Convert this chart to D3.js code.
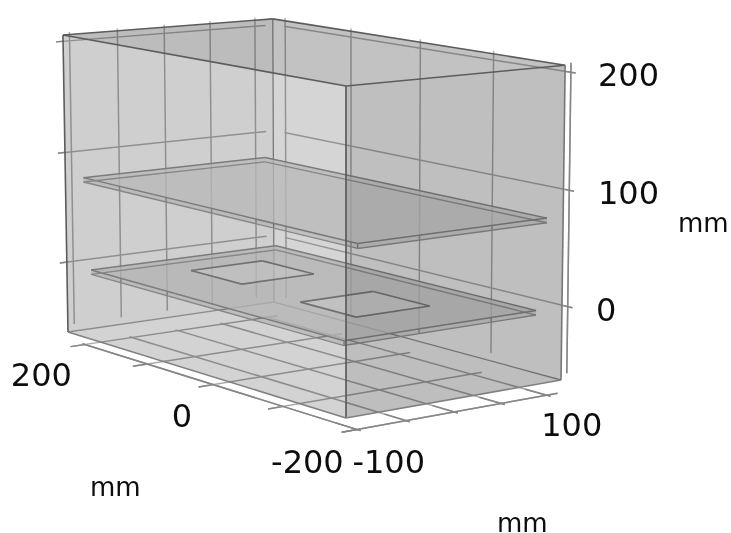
<!DOCTYPE html>
<html>
<head>
<meta charset="utf-8">
<script src="https://cdn.jsdelivr.net/npm/d3@7"></script>
<style>
  html, body { margin: 0; padding: 0; background: #fff; }
  text { font-family: "DejaVu Sans", sans-serif; fill: #111; }
</style>
</head>
<body>
<script>
// axis values
var xTicks = [-200, -100, 0, 100, 200];
var yTicks = [-100, -50, 0, 50, 100];
var zTicks = [0, 100, 200];
var xLabels = [200, 0, -200];
var yLabels = [-100, 100];
var zLabels = [200, 100, 0];

// box and plates, in mm
var boxX = [-203, 207];
var boxY = [-113, 113];
var boxZ = [-62, 207];
var upperPlateX = [-201, 198];
var upperPlateY = [-100, 97];
var upperPlateZ = [75, 79];
var lowerPlateX = [-178, 194];
var lowerPlateY = [-96, 106];
var lowerPlateZ = [-9, -5];
var patchAX = [62, 140];
var patchAY = [-26, 52];
var patchBX = [-110, -32];
var patchBY = [-32, 46];

var width = 731, height = 533;

var root = d3.select("body").append("svg")
    .attr("width", width)
    .attr("height", height);

// the picture is a little soft
root.append("defs").append("filter")
    .attr("id", "soft")
    .append("feGaussianBlur")
    .attr("stdDeviation", 0.55);

var svg = root.append("g").attr("filter", "url(#soft)");

// camera: perspective map of the unit cube onto the picture
var origin = [346, 418], cornerU = [68, 332], cornerV = [561, 380], cornerW = [346, 86];
var persp = [1.1215, 1.0559, 0.98];

var uScale = d3.scaleLinear().domain([boxX[0], boxX[1]]).range([0, 1]);
var vScale = d3.scaleLinear().domain([boxY[0], boxY[1]]).range([0, 1]);
var wScale = d3.scaleLinear().domain([boxZ[0], boxZ[1]]).range([0, 1]);

function project(x, y, z) {
    var u = uScale(x), v = vScale(y), w = wScale(z);
    var d = 1 + u * (persp[0] - 1) + v * (persp[1] - 1) + w * (persp[2] - 1);
    return [0, 1].map(function (i) {
        return (origin[i]
            + u * (persp[0] * cornerU[i] - origin[i])
            + v * (persp[1] * cornerV[i] - origin[i])
            + w * (persp[2] * cornerW[i] - origin[i])) / d;
    });
}

var line = d3.line();

function segment(a, b, color, w) {
    svg.append("path")
        .attr("d", line([project(a[0], a[1], a[2]), project(b[0], b[1], b[2])]))
        .attr("fill", "none")
        .attr("stroke", color)
        .attr("stroke-width", w);
}

function quad(pts, opacity, fill) {
    svg.append("path")
        .attr("d", line(pts.map(function (p) { return project(p[0], p[1], p[2]); })) + "Z")
        .attr("fill", fill || "#000")
        .attr("fill-opacity", opacity)
        .attr("stroke", "none");
}

// grid on the floor and the two back walls
var floorZ = -74, wallX = 217, wallY = 122, wallLow = -58;
var gridColor = "#aaa", wallColor = "#b2b2b2", axisColor = "#868686";

xTicks.forEach(function (x) {
    segment([x, -115, floorZ], [x, 112, floorZ], gridColor, 1.5);
    segment([x, wallY, wallLow], [x, wallY, boxZ[1] + 1], wallColor, 1.5);
    segment([x, -115, floorZ], [x, -100, floorZ], axisColor, 1.5);
});
yTicks.forEach(function (y) {
    segment([-205, y, floorZ], [204, y, floorZ], gridColor, 1.5);
    segment([wallX, y, wallLow], [wallX, y, boxZ[1] + 1], wallColor, 1.5);
    segment([-205, y, floorZ], [-172, y, floorZ], axisColor, 1.5);
});
zTicks.forEach(function (z) {
    segment([wallX, -114, z], [wallX, 112, z], wallColor, 1.5);
    segment([wallX, -114, z], [wallX, -106, z], axisColor, 1.5);
    segment([202, wallY, z], [-206, wallY, z], wallColor, 1.5);
    segment([-194, wallY, z], [-206, wallY, z], axisColor, 1.5);
});
segment([-205, -100, floorZ], [204, -100, floorZ], axisColor, 1.5);
segment([-200, -115, floorZ], [-200, 112, floorZ], axisColor, 1.5);
segment([-200, wallY, wallLow], [-200, wallY, boxZ[1] + 1], axisColor, 1.5);

// box faces behind the plates
var x0 = boxX[0], x1 = boxX[1], y0 = boxY[0], y1 = boxY[1], z0 = boxZ[0], z1 = boxZ[1];
quad([[x1, y0, z0], [x1, y1, z0], [x1, y1, z1], [x1, y0, z1]], 0.08);
quad([[x1, y1, z0], [x0, y1, z0], [x0, y1, z1], [x1, y1, z1]], 0.05);
quad([[x0, y0, z0], [x1, y0, z0], [x1, y1, z0], [x0, y1, z0]], 0.06);

// back edges
segment([x1, y1, z0], [x1, y1, z1], "#8a8a8a", 1.3);
segment([x1, y0, z0], [x1, y1, z0], "#a0a0a0", 1.3);
segment([x1, y1, z0], [x0, y1, z0], "#909090", 1.3);

function plate(px, py, pz, shade) {
    var xa = px[0], xb = px[1], ya = py[0], yb = py[1], za = pz[0], zb = pz[1];
    var bottom = [[xa, ya, za], [xb, ya, za], [xb, yb, za], [xa, yb, za]];
    var topFace = [[xa, ya, zb], [xb, ya, zb], [xb, yb, zb], [xa, yb, zb]];
    quad(topFace, 0.75, shade);
    quad([[xa, ya, za], [xb, ya, za], [xb, ya, zb], [xa, ya, zb]], 0.1);
    quad([[xa, ya, za], [xa, yb, za], [xa, yb, zb], [xa, ya, zb]], 0.1);
    bottom.forEach(function (p, i) {
        segment(p, bottom[(i + 1) % 4], "#999", 1.4);
        segment(topFace[i], topFace[(i + 1) % 4], "#8c8c8c", 1.5);
    });
    segment([xa, ya, za], [xa, ya, zb], "#8c8c8c", 1.5);
}

function patch(px, py, z) {
    var c = [[px[0], py[0], z], [px[1], py[0], z], [px[1], py[1], z], [px[0], py[1], z]];
    quad(c, 0.16, "#fff");
    c.forEach(function (p, i) { segment(p, c[(i + 1) % 4], "#808080", 1.7); });
}

plate(lowerPlateX, lowerPlateY, lowerPlateZ, "#cbcbcb");
patch(patchAX, patchAY, lowerPlateZ[1]);
patch(patchBX, patchBY, lowerPlateZ[1]);
plate(upperPlateX, upperPlateY, upperPlateZ, "#d2d2d2");

// box faces in front
quad([[x0, y0, z1], [x1, y0, z1], [x1, y1, z1], [x0, y1, z1]], 0.2);
quad([[x0, y0, z0], [x1, y0, z0], [x1, y0, z1], [x0, y0, z1]], 0.12);
quad([[x0, y0, z0], [x0, y1, z0], [x0, y1, z1], [x0, y0, z1]], 0.21);

// front edges
var edgeColor = "#5c5c5c", lowEdge = "#808080";
segment([x0, y0, z1], [x1, y0, z1], edgeColor, 1.6);
segment([x1, y0, z1], [x1, y1, z1], edgeColor, 1.6);
segment([x1, y1, z1], [x0, y1, z1], edgeColor, 1.6);
segment([x0, y1, z1], [x0, y0, z1], edgeColor, 1.6);
segment([x0, y0, z0], [x0, y0, z1], edgeColor, 1.7);
segment([x1, y0, z0], [x1, y0, z1], edgeColor, 1.6);
segment([x0, y1, z0], [x0, y1, z1], "#777", 1.6);
segment([x0, y0, z0], [x1, y0, z0], lowEdge, 1.6);
segment([x0, y0, z0], [x0, y1, z0], lowEdge, 1.6);

// tick labels
var tickFont = 32;

svg.selectAll(".xLabel").data(xLabels).enter().append("text")
    .attr("class", "xLabel")
    .attr("x", function (d) { return project(d, -100, floorZ)[0] + (d === 0 ? -21 : -13); })
    .attr("y", function (d) { return project(d, -100, floorZ)[1] + (d === -200 ? 33 : 31); })
    .attr("text-anchor", "end")
    .attr("dominant-baseline", "central")
    .attr("font-size", tickFont)
    .text(function (d) { return d; });

svg.selectAll(".yLabel").data(yLabels).enter().append("text")
    .attr("class", "yLabel")
    .attr("x", function (d) { return project(-200, d, floorZ)[0] + (d < 0 ? 32 : 25); })
    .attr("y", function (d) { return project(-200, d, floorZ)[1] + (d < 0 ? 33 : 30); })
    .attr("text-anchor", "middle")
    .attr("dominant-baseline", "central")
    .attr("font-size", tickFont)
    .text(function (d) { return d; });

svg.selectAll(".zLabel").data(zLabels).enter().append("text")
    .attr("class", "zLabel")
    .attr("x", function (d) { return d === 0 ? 596 : 598; })
    .attr("y", function (d) { return project(-200, wallY, d)[1] + 3; })
    .attr("dominant-baseline", "central")
    .attr("font-size", tickFont)
    .text(function (d) { return d; });

// unit labels
var unitFont = 26;
[[678, 223], [90, 487], [497, 523]].forEach(function (p) {
    svg.append("text")
        .attr("x", p[0])
        .attr("y", p[1])
        .attr("dominant-baseline", "central")
        .attr("font-size", unitFont)
        .text("mm");
});
</script>
</body>
</html>
